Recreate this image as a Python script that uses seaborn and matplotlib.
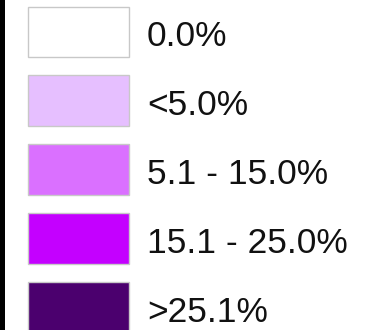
import matplotlib
matplotlib.use("Agg")
import matplotlib.pyplot as plt
import seaborn as sns
import pandas as pd

# Legend classes for the share map
labels = ["0.0%", "<5.0%", "5.1 - 15.0%", "15.1 - 25.0%", ">25.1%"]
colors = ["#FFFFFF", "#E6BFFF", "#DA70FF", "#C400FF", "#4B006E"]
swatch = [1, 1, 1, 1, 1]

sns.set_theme(style="white")
plt.rcParams["font.family"] = ["Liberation Sans", "DejaVu Sans"]

W, H = 366, 330
fig = plt.figure(figsize=(W / 100, H / 100), dpi=100)
ax = fig.add_axes([0, 0, 1, 1])

df = pd.DataFrame({"label": labels, "value": swatch})
sns.barplot(data=df, x="value", y="label", hue="label", palette=colors,
            saturation=1, dodge=False, legend=False, width=0.74, orient="h",
            edgecolor="#C8C8C8", linewidth=1.0, ax=ax)

# pixel-based layout: swatches from x=28 to x=129, rows 69 px apart
px = 101.0
ax.set_xlim(-28 / px, (W - 28) / px)
row = 68.9
ax.set_ylim(4 + (H - 307.5) / row, -32 / row)
ax.set_axis_off()

for i, lab in enumerate(labels):
    ax.text((147 - 28) / px, i + 5 / row, lab, fontsize=25.5,
            va="center", ha="left", color="#111111")

# dark rule along the left edge
fig.add_artist(plt.Rectangle((0, 0), 4.5 / W, 1, transform=fig.transFigure,
                             color="black", lw=0))

fig.savefig("out.png", dpi=100, facecolor="white")
